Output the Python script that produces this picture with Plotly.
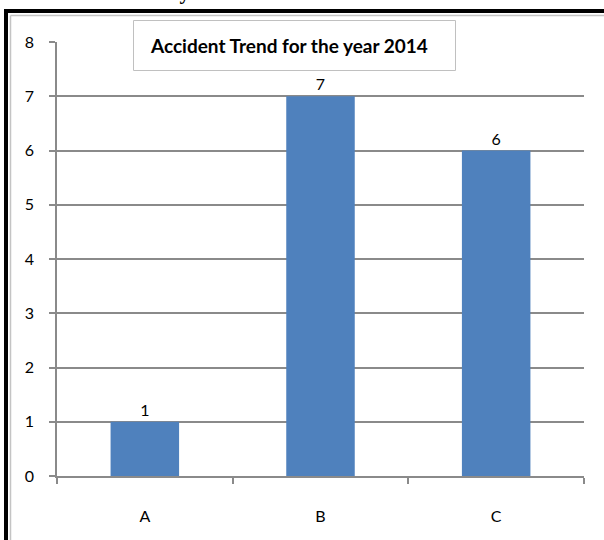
import plotly.graph_objects as go

# Accident counts per category for 2014
categories = ["A", "B", "C"]
accidents = [1, 7, 6]
y_ticks = [0, 1, 2, 3, 4, 5, 6, 7, 8]

W, H = 604, 540
L, R, T, B = 57, 584, 42, 476          # plot area in pixels


def px_x(p):
    return (p - L) / (R - L)


def px_y(p):
    return (B - p) / (B - T)


GRID = "#8a8a8a"
BAR = "#4F81BD"
FONT = "Lato"

fig = go.Figure(
    go.Bar(
        x=categories,
        y=accidents,
        width=0.39,
        marker=dict(color=BAR, line=dict(width=0)),
        text=[str(v) for v in accidents],
        textposition="outside",
        textfont=dict(family=FONT, size=16, color="#000000"),
        cliponaxis=False,
    )
)

shapes = [
    # heavy black frame, top and left
    dict(type="rect", xref="paper", yref="paper",
         x0=px_x(4), x1=px_x(8), y0=px_y(540), y1=px_y(9),
         fillcolor="#000000", line=dict(width=0), layer="above"),
    dict(type="rect", xref="paper", yref="paper",
         x0=px_x(4), x1=px_x(604), y0=px_y(13), y1=px_y(9),
         fillcolor="#000000", line=dict(width=0), layer="above"),
    # thin light inner frame
    dict(type="line", xref="paper", yref="paper",
         x0=px_x(10.5), x1=px_x(604), y0=px_y(15.5), y1=px_y(15.5),
         line=dict(color="#c4c4c4", width=1.5), layer="above"),
    dict(type="line", xref="paper", yref="paper",
         x0=px_x(10.5), x1=px_x(10.5), y0=px_y(540), y1=px_y(15.5),
         line=dict(color="#c4c4c4", width=1.5), layer="above"),
    # title box
    dict(type="rect", xref="paper", yref="paper",
         x0=px_x(133.5), x1=px_x(455.5), y0=px_y(70.5), y1=px_y(20.5),
         fillcolor="#ffffff", line=dict(color="#c0c0c0", width=1), layer="above"),
]

annotations = [
    dict(text="<b>Accident Trend for the year 2014</b>",
         xref="paper", yref="paper", x=px_x(289), y=px_y(46),
         xanchor="center", yanchor="middle", showarrow=False,
         font=dict(family=FONT, size=19, color="#000000")),
    # page heading above the chart frame, mostly cut off by the page edge
    dict(text="<b>Accident Trend Analysis</b>",
         xref="paper", yref="paper", x=px_x(-8), y=px_y(6),
         xanchor="left", yanchor="bottom", showarrow=False,
         font=dict(family="Liberation Serif", size=21, color="#000000")),
]

fig.update_layout(
    width=W, height=H,
    margin=dict(l=L, r=W - R, t=T, b=H - B, pad=0),
    paper_bgcolor="#ffffff",
    plot_bgcolor="#ffffff",
    showlegend=False,
    bargap=0.61,
    shapes=shapes,
    annotations=annotations,
    font=dict(family=FONT, size=14, color="#000000"),
)

fig.update_xaxes(
    type="category",
    showgrid=False,
    showline=True, linecolor=GRID, linewidth=1.5,
    ticks="outside", tickson="boundaries", ticklen=6, tickcolor=GRID, tickwidth=1.5,
    ticklabelstandoff=25,
    tickfont=dict(family=FONT, size=16, color="#000000"),
)

fig.update_yaxes(
    range=[0, 8],
    tickvals=y_ticks,
    showgrid=True, gridcolor=GRID, gridwidth=1.5,
    showline=True, linecolor=GRID, linewidth=1.5,
    zeroline=False,
    ticks="outside", ticklen=6, tickcolor=GRID, tickwidth=1.5,
    ticklabelstandoff=12,
    tickfont=dict(family=FONT, size=16, color="#000000"),
)

fig.write_html("out.html")
